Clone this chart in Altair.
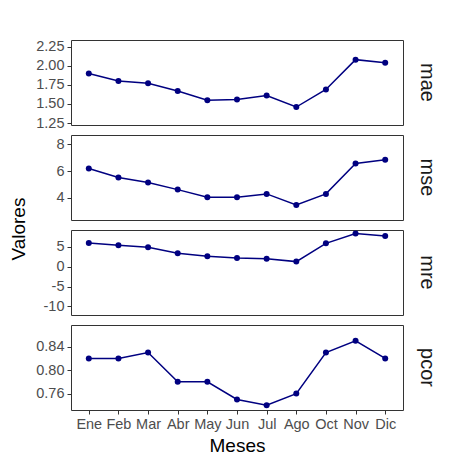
import altair as alt
import pandas as pd

months = ["Ene", "Feb", "Mar", "Abr", "May", "Jun", "Jul", "Ago", "Oct", "Nov", "Dic"]
mae = [1.90, 1.80, 1.77, 1.67, 1.55, 1.56, 1.61, 1.46, 1.69, 2.08, 2.04]
mse = [6.20, 5.52, 5.15, 4.62, 4.05, 4.05, 4.30, 3.47, 4.30, 6.57, 6.85]
mre = [6.00, 5.43, 4.90, 3.40, 2.66, 2.20, 2.05, 1.30, 5.90, 8.40, 7.75]
pcor = [0.82, 0.82, 0.83, 0.78, 0.78, 0.75, 0.74, 0.76, 0.83, 0.85, 0.82]

metrics = ["mae", "mse", "mre", "pcor"]
domains = {
    "mae": [1.225, 2.337],
    "mse": [2.35, 8.70],
    "mre": [-12.16, 9.27],
    "pcor": [0.732, 0.877],
}
ticks = {
    "mae": [1.25, 1.50, 1.75, 2.00, 2.25],
    "mse": [4, 6, 8],
    "mre": [-10, -5, 0, 5],
    "pcor": [0.76, 0.80, 0.84],
}
label_exprs = {
    "mae": "format(datum.value, '.2f')",
    "mse": "'' + datum.value",
    "mre": "'' + datum.value",
    "pcor": "format(datum.value, '.2f')",
}

series = {"mae": mae, "mse": mse, "mre": mre, "pcor": pcor}
rows = []
for m in metrics:
    for mes, v in zip(months, series[m]):
        rows.append({"metric": m, "mes": mes, "valor": v})
df = pd.DataFrame(rows)

FONT = "Liberation Sans"
NAVY = "#000080"

panels = []
for i, m in enumerate(metrics):
    last = i == len(metrics) - 1
    if last:
        xaxis = alt.Axis(title="Meses", labelAngle=0, titleFontSize=19,
                         titleFontWeight="normal", titleColor="#000000",
                         titlePadding=6)
    else:
        xaxis = None
    x = alt.X("mes:N", sort=months, scale=alt.Scale(type="point", padding=0.6),
              axis=xaxis)
    y = alt.Y("valor:Q",
              scale=alt.Scale(domain=domains[m], nice=False, zero=False),
              axis=alt.Axis(title=None, values=ticks[m], labelExpr=label_exprs[m]))
    base = alt.Chart(df).transform_filter(alt.datum.metric == m)
    line = base.mark_line(color=NAVY, strokeWidth=1.5).encode(x=x, y=y)
    pts = base.mark_point(color=NAVY, filled=True, opacity=1, size=36).encode(x=x, y=y)
    panel = alt.layer(line, pts).properties(
        width=332, height=85,
        title=alt.TitleParams(text=m, orient="right", anchor="middle",
                              fontSize=20, font=FONT, fontWeight="normal",
                              color="#1A1A1A", offset=14),
    )
    panels.append(panel)

chart = alt.vconcat(*panels, spacing=10, bounds="flush").properties(
    title=alt.TitleParams(text="Valores", orient="left", anchor="middle",
                          fontSize=19, font=FONT, fontWeight="normal",
                          color="#000000", offset=6, dx=18),
    padding={"top": 30, "left": 2, "right": 2, "bottom": 2},
    background="white",
).configure_view(
    stroke="#333333", strokeWidth=1
).configure_axis(
    domain=False, grid=False, tickColor="#333333", tickSize=4, tickWidth=1,
    labelColor="#4D4D4D", labelFont=FONT, labelFontSize=14.5, labelPadding=3,
    titleFont=FONT,
)

chart.save("out.html", embed_options={"renderer": "svg", "actions": False})
